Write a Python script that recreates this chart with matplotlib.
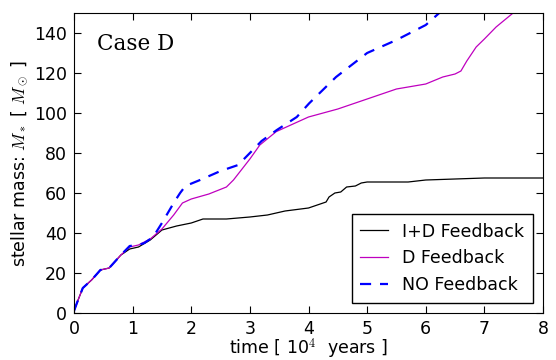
import matplotlib
matplotlib.use("Agg")
import matplotlib.pyplot as plt

# (time in 1e4 yr, mass in Msun)
t_id = [0, 0.05, 0.15, 0.3, 0.45, 0.6, 0.8, 0.95, 1.1, 1.3, 1.5, 1.75, 2.0, 2.2,
        2.6, 3.0, 3.3, 3.6, 4.0, 4.1, 4.2, 4.3, 4.35, 4.45, 4.55, 4.65, 4.8,
        4.9, 5.0, 5.7, 6.0, 6.5, 7.0, 8.0]
m_id = [1, 5, 12.5, 16.5, 21.5, 22.5, 29, 32, 33, 36.5, 41.5, 43.5, 45, 47,
        47, 48, 49, 51, 52.5, 53.5, 54.5, 55.5, 58, 60, 60.5, 63, 63.5,
        65, 65.5, 65.5, 66.5, 67, 67.5, 67.5]

t_d = [0, 0.05, 0.15, 0.3, 0.45, 0.6, 0.8, 0.95, 1.1, 1.3, 1.5, 1.7, 1.85, 2.0,
       2.3, 2.6, 2.72, 3.0, 3.17, 3.45, 4.0, 4.5, 5.0, 5.5, 6.0, 6.29, 6.5,
       6.6, 6.7, 6.86, 7.0, 7.2, 7.49, 7.6]
m_d = [1, 5, 12.5, 16.5, 21.5, 22.5, 29, 33, 34, 37, 42, 49, 55, 57,
       59.5, 63, 66.5, 77, 84, 90.7, 98, 102, 107, 112, 114.5, 118, 119.5,
       121, 126, 133, 137, 143, 150, 152]

t_no = [0, 0.05, 0.15, 0.3, 0.45, 0.6, 0.8, 0.95, 1.1, 1.2, 1.35, 1.5, 1.7, 1.81,
        1.9, 2.15, 2.5, 2.8, 3.0, 3.2, 3.46, 3.8, 4.01, 4.47, 5.0, 5.5, 6.0,
        6.23, 6.3]
m_no = [1, 5, 12.5, 16.5, 21.5, 22.5, 29, 33.5, 34, 35, 38, 45, 55, 60,
        63.5, 66.5, 71, 74, 80, 86, 91.5, 98, 104.8, 118, 130, 136.5, 144,
        150, 152]

plt.rcParams['mathtext.fontset'] = 'cm'
plt.rcParams['xtick.direction'] = 'in'
plt.rcParams['ytick.direction'] = 'in'
plt.rcParams['xtick.top'] = True
plt.rcParams['ytick.right'] = True
plt.rcParams['xtick.major.size'] = 5
plt.rcParams['ytick.major.size'] = 5

fig = plt.figure(figsize=(5.56, 3.6), dpi=100)
ax = fig.add_axes([74 / 556, 47 / 360, 469 / 556, 300 / 360])

ax.plot(t_id, m_id, color='k', lw=0.9, label='I+D Feedback')
ax.plot(t_d, m_d, color='m', lw=0.9, label='D Feedback')
ax.plot(t_no, m_no, color='b', lw=1.6, ls='--', dashes=(5, 4), label='NO Feedback')

ax.set_xlim(0, 8)
ax.set_ylim(0, 150)
ax.set_xticks(range(0, 9))
ax.set_yticks(range(0, 141, 20))
ax.tick_params(labelsize=12.5, pad=5)

ax.set_xlabel(r'time [ 10$^4$  years ]', fontsize=12.5, labelpad=-0.5)
ax.set_ylabel(r'stellar mass: $M_*$ [ $M_\odot$ ]', fontsize=12.5, labelpad=3)
ax.text(0.05, 0.875, 'Case D', transform=ax.transAxes, fontsize=15.5,
        family='DejaVu Serif')

leg = ax.legend(loc='lower right', fontsize=12.5, fancybox=False,
                framealpha=1, edgecolor='k', borderaxespad=0.6,
                handlelength=1.6, borderpad=0.5)
leg.get_frame().set_linewidth(1.0)

plt.savefig('out.png', dpi=100)
